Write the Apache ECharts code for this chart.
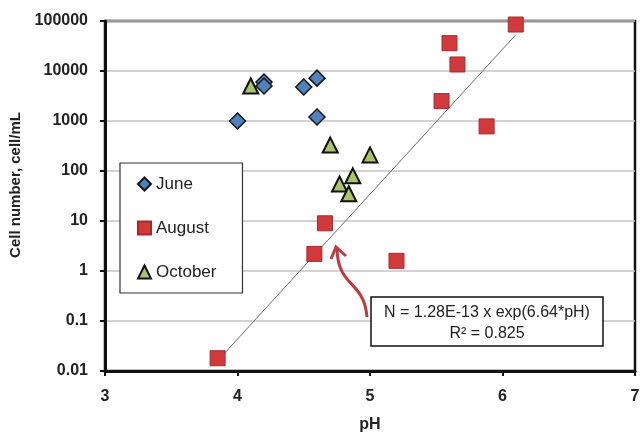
<!DOCTYPE html>
<html>
<head>
<meta charset="utf-8">
<script src="https://cdn.jsdelivr.net/npm/echarts@6/dist/echarts.min.js"></script>
<style>
  html, body { margin: 0; padding: 0; background: #fff; }
  #chart { width: 642px; height: 433px; }
</style>
</head>
<body>
<div id="chart"></div>
<script>
// values: [pH, cells/mL]
var juneData = [[4.0, 1000], [4.2, 6000], [4.2, 5000], [4.5, 4800], [4.6, 7200], [4.6, 1200]];
var augustData = [[6.1, 85000], [5.6, 36000], [5.66, 13500], [5.54, 2500], [5.88, 780],
                  [3.85, 0.018], [4.58, 2.2], [4.66, 9], [5.2, 1.6]];
var octoberData = [[4.1, 5000], [4.7, 330], [5.0, 210], [4.77, 55], [4.87, 80], [4.84, 35]];
// end points of the fitted line
var fitLine = [[3.85, 0.016], [6.1, 53000]];
var yTickLabels = ['0.01', '0.1', '1', '10', '100', '1000', '10000', '100000'];

var font = 'Liberation Sans, Arial, sans-serif';
var chart = echarts.init(document.getElementById('chart'));

var option = {
  backgroundColor: '#fff',
  animation: false,
  textStyle: { fontFamily: font },
  grid: {
    left: 105, right: 7, top: 21, bottom: 62,
    outerBoundsMode: 'none', containLabel: false,
    show: true, borderColor: '#111', borderWidth: 2.5
  },
  legend: {
    orient: 'vertical',
    left: 120, top: 163,
    padding: [11, 26, 11, 17],
    itemGap: 24,
    itemWidth: 13, itemHeight: 13,
    backgroundColor: '#fff',
    borderColor: '#333', borderWidth: 1.2,
    textStyle: { fontSize: 17, color: '#222', lineHeight: 20, fontFamily: font },
    data: ['June', 'August', 'October']
  },
  xAxis: {
    type: 'value',
    min: 3, max: 7, interval: 1,
    name: 'pH', nameLocation: 'middle', nameGap: 46,
    nameTextStyle: { fontSize: 16, fontWeight: 'bold', color: '#222' },
    axisLine: { lineStyle: { color: '#111', width: 3 } },
    axisTick: { show: true, length: 5, lineStyle: { color: '#111', width: 2 } },
    axisLabel: { fontSize: 16, fontWeight: 'bold', color: '#222', margin: 18 },
    splitLine: { show: false }
  },
  yAxis: {
    type: 'log', logBase: 10,
    min: 0.01, max: 100000, splitNumber: 7,
    name: 'Cell number, cell/mL', nameLocation: 'middle', nameGap: 77,
    nameTextStyle: { fontSize: 15, fontWeight: 'bold', color: '#222', padding: [0, 0, 0, 22] },
    axisLine: { show: true, lineStyle: { color: '#111', width: 3 } },
    axisTick: { show: true, length: 5, lineStyle: { color: '#111', width: 2 } },
    axisLabel: {
      fontSize: 16, fontWeight: 'bold', color: '#222', margin: 17,
      formatter: function (v) {
        var i = Math.round(Math.log10(v)) + 2;
        return yTickLabels[i] || '';
      }
    },
    splitLine: { show: true, lineStyle: { color: '#c4c4c4', width: 1.5 } }
  },
  series: [
    {
      name: 'fit', type: 'line', data: fitLine,
      symbol: 'none', silent: true, z: 1,
      lineStyle: { color: '#6e6e6e', width: 1 }
    },
    {
      name: 'June', type: 'scatter', data: juneData,
      symbol: 'diamond', symbolSize: 16, z: 3,
      itemStyle: { color: '#4f81bd', borderColor: '#151515', borderWidth: 1.5, opacity: 1 }
    },
    {
      name: 'August', type: 'scatter', data: augustData,
      symbol: 'rect', symbolSize: 15, z: 3,
      itemStyle: { color: '#d03a3a', borderColor: '#a52a2a', borderWidth: 1, opacity: 1 }
    },
    {
      name: 'October', type: 'scatter', data: octoberData,
      symbol: 'triangle', symbolSize: 15, z: 4,
      itemStyle: { color: '#a9c46c', borderColor: '#111', borderWidth: 2, opacity: 1 }
    }
  ],
  graphic: [
    {
      type: 'bezierCurve', z: 10,
      shape: { x1: 367, y1: 317, cpx1: 364, cpy1: 280, cpx2: 338, cpy2: 288, x2: 337, y2: 249 },
      style: { stroke: '#c0393f', lineWidth: 3, fill: null }
    },
    {
      type: 'polyline', z: 10,
      shape: { points: [[331, 259], [336, 247], [346, 256]] },
      style: { stroke: '#c0393f', lineWidth: 3, fill: null }
    },
    {
      type: 'rect', z: 10,
      shape: { x: 371, y: 297, width: 232, height: 49 },
      style: { fill: '#fff', stroke: '#111', lineWidth: 1.5 }
    },
    {
      type: 'text', z: 11, x: 487, y: 313,
      style: { text: 'N = 1.28E-13 x exp(6.64*pH)', font: '16px ' + font, fill: '#222', align: 'center', verticalAlign: 'middle' }
    },
    {
      type: 'text', z: 11, x: 487, y: 334,
      style: { text: 'R² = 0.825', font: '16px ' + font, fill: '#222', align: 'center', verticalAlign: 'middle' }
    }
  ]
};

chart.setOption(option);
</script>
</body>
</html>
